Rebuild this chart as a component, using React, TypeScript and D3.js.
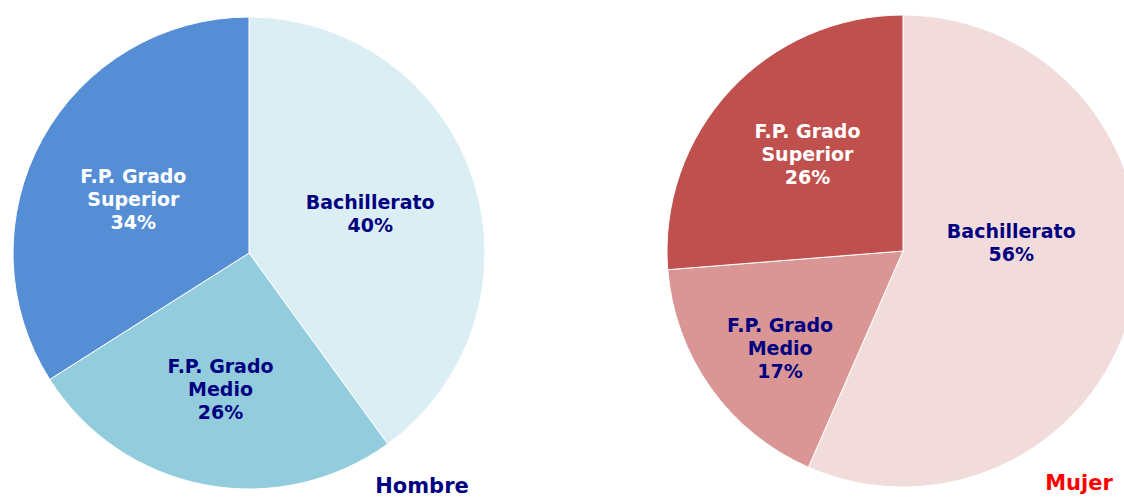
import React, { useEffect, useRef } from 'react';
import * as d3 from 'd3';

const categories = ['Bachillerato', 'F.P. Grado Medio', 'F.P. Grado Superior'];
const labelLines = [['Bachillerato'], ['F.P. Grado', 'Medio'], ['F.P. Grado', 'Superior']];
const hombreValues = [40, 26, 34];
const mujerValues = [56, 17, 26];
const hombreColors = ['#DBEEF4', '#93CDDD', '#558ED5'];
const mujerColors = ['#F2DCDB', '#D99694', '#C0504D'];
const textColors = ['#000080', '#000080', '#FFFFFF'];

// label placement (fraction of radius, angle nudge in degrees), like Excel's best fit
const hombreLabelR = [0.54, 0.59, 0.54];
const hombreLabelNudge = [0, 1, -4];
const mujerLabelR = [0.46, 0.665, 0.576];
const mujerLabelNudge = [-16, -3, 2.6];

const W = 1124;
const H = 498;
const R = 236;

export default function App() {
  const svgRef = useRef<SVGSVGElement>(null);

  useEffect(() => {
    document.body.style.margin = '0';
    if (!svgRef.current) return;
    const svg = d3.select(svgRef.current);
    svg.selectAll('*').remove();

    const pie = d3.pie<number>().sort(null).value(d => d);
    const arc = d3.arc<d3.PieArcDatum<number>>().innerRadius(0).outerRadius(R);

    const drawPie = (cx: number, cy: number, values: number[], colors: string[], lr: number[], nudge: number[]) => {
      const g = svg.append('g').attr('transform', `translate(${cx},${cy})`);
      const arcs = pie(values);
      g.selectAll('path')
        .data(arcs)
        .join('path')
        .attr('d', arc)
        .attr('fill', (_, i) => colors[i])
        .attr('stroke', '#ffffff')
        .attr('stroke-width', 1);

      arcs.forEach((a, i) => {
        const mid = (a.startAngle + a.endAngle) / 2 + (nudge[i] * Math.PI) / 180;
        const r = R * lr[i];
        const x = r * Math.sin(mid);
        const y = -r * Math.cos(mid);
        const lines = [...labelLines[i], `${values[i]}%`];
        const lh = 23;
        const t = g.append('text')
          .attr('text-anchor', 'middle')
          .attr('font-family', 'DejaVu Sans, Verdana, sans-serif')
          .attr('font-weight', 'bold')
          .attr('font-size', '19px')
          .attr('fill', textColors[i]);
        lines.forEach((ln, j) => {
          t.append('tspan')
            .attr('x', x)
            .attr('y', y + (j - (lines.length - 1) / 2) * lh)
            .attr('dy', '0.35em')
            .text(ln);
        });
      });
    };

    drawPie(249, 253, hombreValues, hombreColors, hombreLabelR, hombreLabelNudge);
    drawPie(903, 251, mujerValues, mujerColors, mujerLabelR, mujerLabelNudge);

    svg.append('text')
      .attr('x', 422).attr('y', 493)
      .attr('text-anchor', 'middle')
      .attr('font-family', 'DejaVu Sans, Verdana, sans-serif')
      .attr('font-weight', 'bold')
      .attr('font-size', '21px')
      .attr('fill', '#000080')
      .text('Hombre');

    svg.append('text')
      .attr('x', 1079).attr('y', 490)
      .attr('text-anchor', 'middle')
      .attr('font-family', 'DejaVu Sans, Verdana, sans-serif')
      .attr('font-weight', 'bold')
      .attr('font-size', '21px')
      .attr('fill', '#FF0000')
      .text('Mujer');
  }, []);

  return (
    <svg ref={svgRef} width={W} height={H} style={{ display: 'block', background: '#ffffff' }} aria-label={categories.join(', ')} />
  );
}
